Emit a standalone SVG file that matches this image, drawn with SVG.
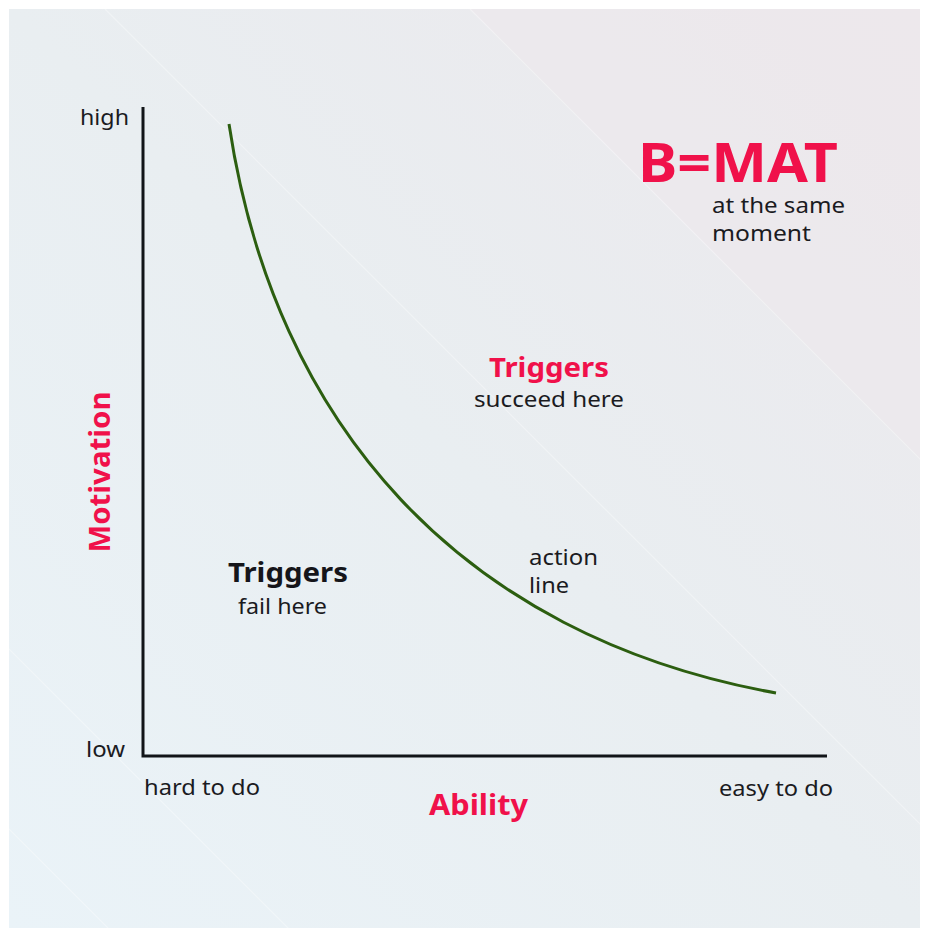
<svg xmlns="http://www.w3.org/2000/svg" width="929" height="937" viewBox="0 0 929 937">
  <defs>
    <linearGradient id="bg" x1="0" y1="1" x2="1" y2="0">
      <stop offset="0" stop-color="#eaf3f8"/>
      <stop offset="0.5" stop-color="#e9eef1"/>
      <stop offset="1" stop-color="#ece8ec"/>
    </linearGradient>
    <clipPath id="panel">
      <rect x="9" y="9" width="911" height="919"/>
    </clipPath>
  </defs>
  <style>
    .lbl { font-family: "Noto Sans", "Open Sans", sans-serif; font-size: 22px; fill: #1b1b1f; }
    .hot { font-family: "Noto Sans", "Open Sans", sans-serif; font-weight: 700; fill: #f0114a; }
    .dark { font-family: "Noto Sans", "Open Sans", sans-serif; font-weight: 700; fill: #15151a; }
    .axis { stroke: #111418; stroke-width: 3; fill: none; }
    .curve { stroke: #2c5e10; stroke-width: 3; fill: none; stroke-linecap: butt; }
    .streak { stroke: #ffffff; stroke-opacity: 0.35; stroke-width: 1.2; }
  </style>

  <!-- backdrop -->
  <rect x="0" y="0" width="929" height="937" fill="#ffffff"/>
  <rect x="9" y="9" width="911" height="919" fill="url(#bg)"/>
  <g clip-path="url(#panel)">
    <path d="M470 9 L920 459 L920 9 Z" fill="#ede7ec" fill-opacity="0.5"/>
    <line class="streak" x1="105" y1="9" x2="1025" y2="929"/>
    <line class="streak" x1="470" y1="9" x2="1390" y2="929"/>
    <line class="streak" x1="-200" y1="440" x2="300" y2="940"/>
    <line class="streak" x1="-300" y1="520" x2="120" y2="940"/>
  </g>

  <!-- axes and action line -->
  <g id="connectors">
    <polyline class="axis" points="143,107 143,756 827,756"/>
    <path id="action-line" class="curve" d="M229,124 C274,424 460,636 776,693"/>
  </g>

  <g id="axis-y-high"><text class="lbl" x="129" y="125" text-anchor="end" textLength="49" lengthAdjust="spacingAndGlyphs">high</text></g>
  <g id="axis-y-low"><text class="lbl" x="125" y="757" text-anchor="end" textLength="39" lengthAdjust="spacingAndGlyphs">low</text></g>
  <g id="axis-y-title"><text class="hot" font-size="28" transform="translate(110,472) rotate(-90)" text-anchor="middle" textLength="161" lengthAdjust="spacingAndGlyphs">Motivation</text></g>

  <g id="axis-x-hard"><text class="lbl" x="144" y="795" textLength="116" lengthAdjust="spacingAndGlyphs">hard to do</text></g>
  <g id="axis-x-easy"><text class="lbl" x="719" y="796" textLength="114" lengthAdjust="spacingAndGlyphs">easy to do</text></g>
  <g id="axis-x-title"><text class="hot" font-size="28" x="429" y="815" textLength="99" lengthAdjust="spacingAndGlyphs">Ability</text></g>

  <g id="formula">
    <text class="hot" font-size="54" x="638" y="182" textLength="200" lengthAdjust="spacingAndGlyphs">B=MAT</text>
    <text class="lbl" x="712" y="213" textLength="133" lengthAdjust="spacingAndGlyphs">at the same</text>
    <text class="lbl" x="712" y="241" textLength="99" lengthAdjust="spacingAndGlyphs">moment</text>
  </g>

  <g id="succeed-zone">
    <text class="hot" font-size="26" x="489" y="377" textLength="120" lengthAdjust="spacingAndGlyphs">Triggers</text>
    <text class="lbl" x="474" y="407" textLength="150" lengthAdjust="spacingAndGlyphs">succeed here</text>
  </g>

  <g id="fail-zone">
    <text class="dark" font-size="26" x="228" y="582" textLength="120" lengthAdjust="spacingAndGlyphs">Triggers</text>
    <text class="lbl" x="238" y="614" textLength="89" lengthAdjust="spacingAndGlyphs">fail here</text>
  </g>

  <g id="action-label">
    <text class="lbl" x="529" y="565" textLength="69" lengthAdjust="spacingAndGlyphs">action</text>
    <text class="lbl" x="529" y="593" textLength="40" lengthAdjust="spacingAndGlyphs">line</text>
  </g>
</svg>
